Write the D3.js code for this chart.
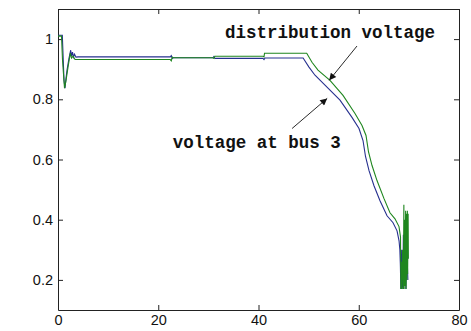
<!DOCTYPE html>
<html>
<head>
<meta charset="utf-8">
<script src="https://cdn.jsdelivr.net/npm/d3@7"></script>
<style>
  html, body { margin: 0; padding: 0; background: #fff; }
  svg { display: block; }
  .axis text { font-family: "Liberation Sans", Arial, sans-serif; font-size: 14.5px; fill: #111; }
  .axis path, .axis line { stroke: #222; }
  .note { font-family: "Liberation Mono", "Courier New", monospace; font-weight: bold; font-size: 17.5px; fill: #111; }
</style>
</head>
<body>
<div id="chart"></div>
<script>
// tick labels
const xTicks = [0, 20, 40, 60, 80];
const yTicks = [0.2, 0.4, 0.6, 0.8, 1];

// voltage at bus 3 (blue)
const busT = [0, 0.86, 1.2, 1.4, 1.6, 1.8, 2.0, 2.2, 2.53, 2.69, 2.89, 3.09, 3.29, 3.59, 4.0,
  22.4, 22.6, 22.8, 23, 30.9, 31.1, 31.3, 40.9, 41.1, 41.3, 48.9,
  50.07, 51.27, 53.27, 56.26, 58.65, 60.05, 60.85, 61.35, 62.05, 63.04, 64.24, 65.64, 66.84, 67.64, 68.04,
  68.2, 68.3, 68.4, 68.5, 68.6, 68.8, 68.9, 69.0, 69.2, 69.4, 69.6, 69.8];
const busV = [1.013, 1.013, 0.863, 0.837, 0.87, 0.897, 0.917, 0.937, 0.963, 0.943, 0.957, 0.94, 0.95, 0.94, 0.941,
  0.941, 0.945, 0.936, 0.938, 0.938, 0.942, 0.936, 0.936, 0.932, 0.937, 0.937,
  0.907, 0.88, 0.847, 0.797, 0.74, 0.703, 0.663, 0.61, 0.563, 0.513, 0.463, 0.413, 0.39, 0.363, 0.33,
  0.3, 0.25, 0.17, 0.3, 0.2, 0.17, 0.35, 0.2, 0.3, 0.17, 0.3, 0.2];

// distribution voltage (green)
const distT = [0, 0.7, 0.9, 1.3, 1.6, 2.0, 2.45, 2.7, 3.0, 3.4,
  22.4, 22.6, 22.8, 23, 30.9, 31.1, 31.3, 40.9, 41.1, 41.2, 41.4, 49.62,
  50.67, 51.87, 54.26, 56.86, 59.25, 60.65, 61.45, 61.95, 62.65, 63.64, 65.04, 66.23, 67.23, 68.03, 68.33,
  68.4, 68.5, 68.6, 68.75, 68.9, 69.0, 69.05, 69.15, 69.25, 69.35, 69.45, 69.55, 69.6, 69.7, 69.75, 69.85, 69.9];
const distV = [1.01, 1.01, 0.93, 0.837, 0.863, 0.907, 0.953, 0.937, 0.943, 0.932,
  0.932, 0.928, 0.94, 0.938, 0.938, 0.936, 0.943, 0.943, 0.941, 0.953, 0.953, 0.953,
  0.923, 0.897, 0.863, 0.813, 0.753, 0.713, 0.68, 0.625, 0.58, 0.53, 0.47, 0.423, 0.403, 0.377, 0.343,
  0.17, 0.26, 0.17, 0.30, 0.17, 0.45, 0.17, 0.40, 0.18, 0.43, 0.17, 0.42, 0.20, 0.43, 0.22, 0.42, 0.27];

// annotations, in data units
const notes = [
  { text: 'distribution voltage', x: 33.3, y: 1.003, tail: [59.65, 0.977], tip: [54.1, 0.863] },
  { text: 'voltage at bus 3', x: 22.9, y: 0.637, tail: [46.7, 0.703], tip: [53.7, 0.803] }
];

const width = 471, height = 331;
const margin = { top: 9, right: 12, bottom: 21, left: 58 };
const w = width - margin.left - margin.right;
const h = height - margin.top - margin.bottom;

const svg = d3.select('#chart').append('svg')
  .attr('width', width)
  .attr('height', height);

svg.append('defs').append('marker')
  .attr('id', 'head')
  .attr('viewBox', '0 0 10 10')
  .attr('refX', 10).attr('refY', 5)
  .attr('markerWidth', 9).attr('markerHeight', 7)
  .attr('markerUnits', 'userSpaceOnUse')
  .attr('orient', 'auto')
  .append('path')
  .attr('d', 'M0,0L10,5L0,10Z')
  .attr('fill', '#111');

const g = svg.append('g')
  .attr('transform', 'translate(' + margin.left + ',' + margin.top + ')');

const x = d3.scaleLinear().domain([0, 80]).range([0, w]);
const y = d3.scaleLinear().domain([0.1, 1.1]).range([h, 0]);

const yFmt = d => d === 1 ? '1' : d3.format('.1f')(d);

g.append('g').attr('class', 'axis')
  .attr('transform', 'translate(0,' + h + ')')
  .call(d3.axisBottom(x).tickValues(xTicks).tickSize(-5).tickSizeOuter(0).tickPadding(5).tickFormat(d3.format('d')));
g.append('g').attr('class', 'axis')
  .call(d3.axisLeft(y).tickValues(yTicks).tickSize(-5).tickSizeOuter(0).tickPadding(5).tickFormat(yFmt));
g.append('g').attr('class', 'axis')
  .call(d3.axisTop(x).tickValues(xTicks).tickSize(-5).tickSizeOuter(0).tickFormat(''));
g.append('g').attr('class', 'axis')
  .attr('transform', 'translate(' + w + ',0)')
  .call(d3.axisRight(y).tickValues(yTicks).tickSize(-5).tickSizeOuter(0).tickFormat(''));

const line = d3.line().x(d => x(d[0])).y(d => y(d[1]));

g.append('path')
  .datum(d3.zip(busT, busV))
  .attr('d', line)
  .attr('fill', 'none')
  .attr('stroke', '#26308f')
  .attr('stroke-width', 1.1);

g.append('path')
  .datum(d3.zip(distT, distV))
  .attr('d', line)
  .attr('fill', 'none')
  .attr('stroke', '#1f861f')
  .attr('stroke-width', 1.1);

notes.forEach(n => {
  g.append('line')
    .attr('x1', x(n.tail[0])).attr('y1', y(n.tail[1]))
    .attr('x2', x(n.tip[0])).attr('y2', y(n.tip[1]))
    .attr('stroke', '#111')
    .attr('stroke-width', 0.9)
    .attr('marker-end', 'url(#head)');
  g.append('text')
    .attr('class', 'note')
    .attr('x', x(n.x))
    .attr('y', y(n.y))
    .text(n.text);
});
</script>
</body>
</html>
